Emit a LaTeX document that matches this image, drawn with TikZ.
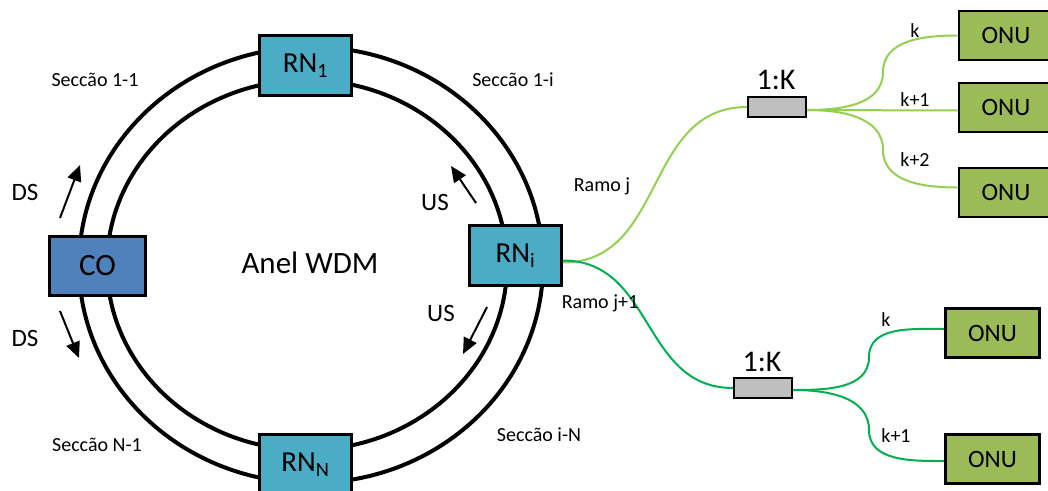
\documentclass[tikz,border=0pt]{standalone}
\usepackage{fontspec}
\setmainfont{Carlito}
\usetikzlibrary{arrows.meta}
\definecolor{rnfill}{HTML}{4BACC6}
\definecolor{cofill}{HTML}{4F81BD}
\definecolor{onufill}{HTML}{9BBB59}
\definecolor{splitfill}{HTML}{BFBFBF}
\definecolor{fibreA}{HTML}{92D050}
\definecolor{fibreB}{HTML}{00B050}
\newcommand{\fs}[1]{\fontsize{#1}{#1}\selectfont}

\begin{document}
\begin{tikzpicture}[x=1pt,y=-1pt,
  unitbox/.style={draw=black,line width=2.8pt,inner sep=0pt},
  rn/.style={unitbox,fill=rnfill,minimum width=92pt,minimum height=60pt,font=\fs{29}},
  co/.style={unitbox,fill=cofill,minimum width=96pt,minimum height=59pt,font=\fs{31}},
  onu/.style={unitbox,fill=onufill,minimum width=94pt,minimum height=49pt,font=\fs{25}},
  splitter/.style={draw=black,line width=2.2pt,fill=splitfill,minimum width=58pt,minimum height=20pt,inner sep=0pt},
  ringline/.style={line width=4pt},
  flow/.style={line width=2pt,-{Triangle[length=16pt,width=14pt]}},
  fibrej/.style={draw=fibreA,line width=2pt},
  fibrejj/.style={draw=fibreB,line width=2pt},
  small/.style={font=\fs{20}},
  dirlabel/.style={font=\fs{25}}]

\useasboundingbox (0,0) rectangle (1048,490);

% WDM ring (outer and inner fibre)
\draw[ringline] (311,265) ellipse [x radius=232, y radius=218];
\draw[ringline] (307,265) ellipse [x radius=200, y radius=185];

% Ring nodes and central office
\node[rn] (rn1) at (305.5,65.5) {RN\textsubscript{1}};
\node[rn] (rni) at (515.5,255.5) {RN\textsubscript{i}};
\node[rn] (rnn) at (305.5,464.5) {RN\textsubscript{N}};
\node[co] (co) at (97.5,266) {CO};

\node[font=\fs{31}] (anel) at (310,263) {Anel WDM};

% Section labels
\node[small] (s11) at (95,80) {Seccão 1-1};
\node[small] (s1i) at (513,80) {Seccão 1-i};
\node[small] (sn1) at (97,445) {Seccão N-1};
\node[small] (sin) at (539,435) {Seccão i-N};

% Downstream / upstream directions
\coordinate (dsat) at (60,218);  \coordinate (dsah) at (80,165);
\coordinate (dsbt) at (60,311);  \coordinate (dsbh) at (79,358);
\coordinate (usat) at (476,203); \coordinate (usah) at (451,166);
\coordinate (usbt) at (487,307); \coordinate (usbh) at (463,354);
\draw[flow] (dsat) -- (dsah);
\draw[flow] (dsbt) -- (dsbh);
\draw[flow] (usat) -- (usah);
\draw[flow] (usbt) -- (usbh);
\node[dirlabel] (ds1) at (25,192) {DS};
\node[dirlabel] (ds2) at (25,338) {DS};
\node[dirlabel] (us1) at (435,202) {US};
\node[dirlabel] (us2) at (441,313) {US};

% Splitters
\node[splitter] (spa) at (777,107) {};
\node[splitter] (spb) at (763,388) {};
\node[font=\fs{30}] (ka) at (776,80) {1:K};
\node[font=\fs{30}] (kb) at (762,362) {1:K};

% ONUs
\node[onu] (oa1) at (1006,35.5) {ONU};
\node[onu] (oa2) at (1006,107.5) {ONU};
\node[onu] (oa3) at (1006,192.5) {ONU};
\node[onu] (ob1) at (992.5,333) {ONU};
\node[onu] (ob2) at (992.5,459) {ONU};

% Branch j
\coordinate (spaout) at ([yshift=-3pt]spa.east);
\draw[fibrej] ([yshift=-7pt]rni.east) to[out=0,in=180,looseness=1.1] (spa.west);
\draw[fibrej] (spaout) to[out=0,in=-90] (883,72) to[out=90,in=180] (oa1.west);
\draw[fibrej] (spaout) -- ([yshift=-3pt]oa2.west);
\draw[fibrej] (spaout) to[out=0,in=90] (883,150) to[out=-90,in=180] ([yshift=5pt]oa3.west);
\node[small] (lk1) at (915,31) {k};
\node[small] (lk2) at (915,100) {k+1};
\node[small] (lk3) at (915,160) {k+2};
\node[small] (rj) at (602,186) {Ramo j};

% Branch j+1
\coordinate (spbout) at ([yshift=-2pt]spb.east);
\draw[fibrejj] ([yshift=-5pt]rni.east) to[out=0,in=180,looseness=1.1] (spb.west);
\draw[fibrejj] (spbout) to[out=0,in=-90] (869,357) to[out=90,in=180] ([yshift=4pt]ob1.west);
\draw[fibrejj] (spbout) to[out=0,in=90] (869,430) to[out=-90,in=180] ([yshift=-2pt]ob2.west);
\node[small] (lm1) at (886,320) {k};
\node[small] (lm2) at (896,436) {k+1};
\node[small] (rjj) at (600,303) {Ramo j+1};

\end{tikzpicture}
\end{document}
